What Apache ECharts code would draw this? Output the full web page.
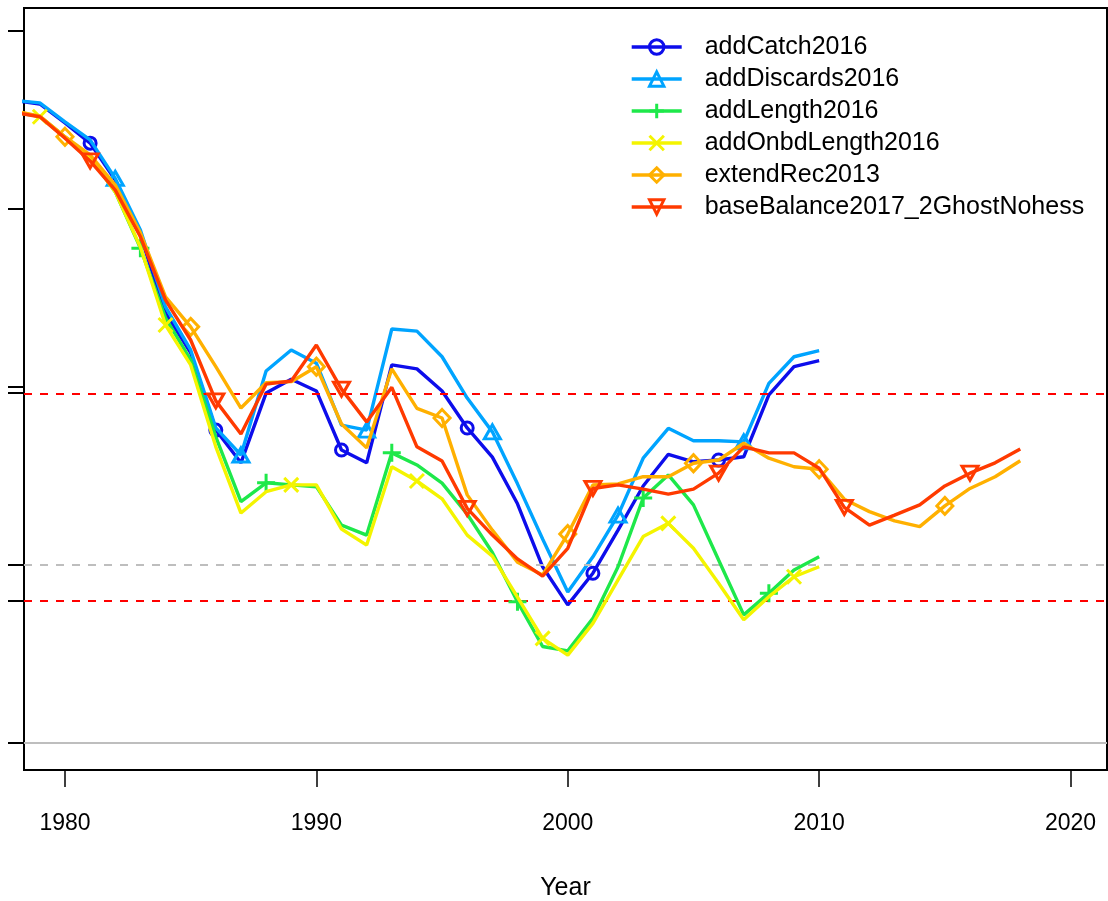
<!DOCTYPE html>
<html>
<head>
<meta charset="utf-8">
<title>Spawning output comparison</title>
<script src="https://cdn.jsdelivr.net/npm/echarts@6/dist/echarts.min.js"></script>
<style>
  html, body { margin: 0; padding: 0; background: #ffffff; }
  #chart { width: 1108px; height: 901px; }
</style>
</head>
<body>
<div id="chart"></div>
<script>
// Model years
const years = [1978, 1979, 1980, 1981, 1982, 1983, 1984, 1985, 1986, 1987,
  1988, 1989, 1990, 1991, 1992, 1993, 1994, 1995, 1996, 1997,
  1998, 1999, 2000, 2001, 2002, 2003, 2004, 2005, 2006, 2007,
  2008, 2009, 2010, 2011, 2012, 2013, 2014, 2015, 2016, 2017, 2018];

const seriesNames = ['addCatch2016', 'addDiscards2016', 'addLength2016',
  'addOnbdLength2016', 'extendRec2013', 'baseBalance2017_2GhostNohess'];

// Values per model run (1978 onward)
const addCatch2016 = [1.805, 1.795, 1.742, 1.685, 1.581, 1.427, 1.208, 1.096, 0.879, 0.787,
  0.983, 1.022, 0.989, 0.823, 0.787, 1.062, 1.051, 0.989, 0.885, 0.803,
  0.672, 0.495, 0.388, 0.477, 0.598, 0.722, 0.811, 0.790, 0.795, 0.804,
  0.978, 1.057, 1.074];
const addDiscards2016 = [1.805, 1.798, 1.745, 1.694, 1.586, 1.441, 1.225, 1.104, 0.885, 0.809,
  1.045, 1.104, 1.067, 0.893, 0.879, 1.163, 1.157, 1.085, 0.969, 0.874,
  0.728, 0.573, 0.424, 0.523, 0.640, 0.800, 0.884, 0.849, 0.849, 0.846,
  1.010, 1.085, 1.102];
const addLength2016 = [1.772, 1.760, 1.702, 1.646, 1.548, 1.390, 1.194, 1.076, 0.860, 0.678,
  0.731, 0.725, 0.720, 0.612, 0.584, 0.815, 0.781, 0.730, 0.643, 0.535,
  0.397, 0.271, 0.259, 0.350, 0.495, 0.688, 0.753, 0.669, 0.514, 0.360,
  0.421, 0.486, 0.523];
const addOnbdLength2016 = [1.775, 1.759, 1.702, 1.646, 1.548, 1.393, 1.174, 1.062, 0.832, 0.646,
  0.706, 0.725, 0.725, 0.601, 0.556, 0.776, 0.736, 0.686, 0.584, 0.525,
  0.410, 0.294, 0.247, 0.336, 0.458, 0.580, 0.617, 0.547, 0.449, 0.346,
  0.411, 0.467, 0.495];
const extendRec2013 = [1.775, 1.761, 1.703, 1.652, 1.567, 1.433, 1.253, 1.169, 1.057, 0.941,
  1.012, 1.015, 1.057, 0.896, 0.829, 1.051, 0.940, 0.913, 0.697, 0.598,
  0.508, 0.472, 0.587, 0.725, 0.728, 0.748, 0.748, 0.786, 0.795, 0.842,
  0.800, 0.776, 0.769, 0.685, 0.650, 0.624, 0.608, 0.666, 0.715, 0.748,
  0.793];
const baseBalance2017 = [1.771, 1.759, 1.699, 1.635, 1.553, 1.422, 1.244, 1.132, 0.961, 0.868,
  1.008, 1.017, 1.118, 0.994, 0.902, 0.999, 0.832, 0.792, 0.659, 0.584,
  0.517, 0.469, 0.547, 0.715, 0.725, 0.713, 0.699, 0.713, 0.758, 0.832,
  0.815, 0.815, 0.772, 0.662, 0.612, 0.640, 0.669, 0.722, 0.758, 0.787,
  0.826];

const seriesValues = [addCatch2016, addDiscards2016, addLength2016,
  addOnbdLength2016, extendRec2013, baseBalance2017];

// Reference levels
const refSolidGray = [0];
const refDashedGray = [0.5];
const refDashedRed = [0.4, 0.983];

// Axis ticks
const xTickLabels = [1980, 1990, 2000, 2010, 2020];
const yTickValues = [0, 0.4, 0.5, 0.983, 1, 1.5, 2];

// Drawing styles: colour, marker shape, marker size, first marker year
const PLUS = 'path://M0,6L12,6M6,0L6,12';
const CROSS = 'path://M0,0L12,12M12,0L0,12';
const styles = [
  { color: '#0D0DEB', symbol: 'circle', size: 12, rotate: 0, first: 1981 },
  { color: '#00A4FF', symbol: 'triangle', size: [16, 14], rotate: 0, first: 1982 },
  { color: '#1EE84A', symbol: PLUS, size: 18, rotate: 0, first: 1983 },
  { color: '#F4F400', symbol: CROSS, size: 14, rotate: 0, first: 1979 },
  { color: '#FFB000', symbol: 'diamond', size: [16, 17], rotate: 0, first: 1980 },
  { color: '#FF3A00', symbol: 'triangle', size: [16, 14], rotate: 180, first: 1981 }
];
const MARKER_STEP = 5;

const FONT = '"Liberation Sans", Arial, Helvetica, sans-serif';

const lineSeries = seriesNames.map((name, k) => {
  const st = styles[k];
  const vals = seriesValues[k];
  const data = vals.map((v, i) => {
    const yr = years[i];
    const marked = yr >= st.first && (yr - st.first) % MARKER_STEP === 0;
    return marked ? { value: [yr, v] } : { value: [yr, v], symbol: 'none' };
  });
  return {
    name: name,
    type: 'line',
    data: data,
    symbol: st.symbol,
    symbolSize: st.size,
    symbolRotate: st.rotate,
    showAllSymbol: true,
    clip: true,
    z: 3 + k,
    lineStyle: { color: st.color, width: 3.4 },
    itemStyle: { color: 'rgba(255,255,255,0)', borderColor: st.color, borderWidth: 3 },
    emphasis: { disabled: true },
    animation: false
  };
});

const refLines = {
  name: 'reference',
  type: 'line',
  data: [],
  z: 1,
  silent: true,
  animation: false,
  markLine: {
    silent: true,
    symbol: 'none',
    label: { show: false },
    animation: false,
    data: [
      ...refSolidGray.map(v => ({ yAxis: v, lineStyle: { color: '#BEBEBE', width: 2, type: 'solid' } })),
      ...refDashedGray.map(v => ({ yAxis: v, lineStyle: { color: '#BEBEBE', width: 2, type: [8, 8] } })),
      ...refDashedRed.map(v => ({ yAxis: v, lineStyle: { color: '#FF0000', width: 2, type: [8, 8] } }))
    ]
  }
};

const chart = echarts.init(document.getElementById('chart'), null, { renderer: 'canvas' });
chart.setOption({
  animation: false,
  backgroundColor: '#ffffff',
  textStyle: { fontFamily: FONT },
  grid: {
    left: 24, top: 8, right: 1, bottom: 131,
    outerBoundsMode: 'none',
    containLabel: false,
    show: true, borderColor: '#000000', borderWidth: 2, backgroundColor: 'transparent'
  },
  legend: {
    data: seriesNames,
    orient: 'vertical',
    left: 625,
    top: 26,
    itemWidth: 50,
    itemHeight: 18,
    itemGap: 0,
    selectedMode: false,
    lineStyle: { width: 3.4 },
    itemStyle: { borderWidth: 3 },
    textStyle: { fontFamily: FONT, fontSize: 25, color: '#000000', lineHeight: 32, padding: [0, 0, 0, 18] }
  },
  xAxis: {
    type: 'value',
    min: 1978.37,
    max: 2021.45,
    name: 'Year',
    nameLocation: 'middle',
    nameGap: 106,
    nameTextStyle: { fontFamily: FONT, fontSize: 25, color: '#000000' },
    axisLine: { show: true, onZero: false, lineStyle: { color: '#000000', width: 2 } },
    axisTick: { show: true, inside: false, length: 17, customValues: xTickLabels, lineStyle: { color: '#000000', width: 1.5 } },
    axisLabel: {
      show: true, margin: 42, customValues: xTickLabels,
      formatter: v => String(v),
      fontFamily: FONT, fontSize: 23, color: '#000000'
    },
    splitLine: { show: false }
  },
  yAxis: {
    type: 'value',
    min: -0.0758,
    max: 2.0646,
    axisLine: { show: true, onZero: false, lineStyle: { color: '#000000', width: 2 } },
    axisTick: { show: true, inside: false, length: 16, customValues: yTickValues, lineStyle: { color: '#000000', width: 2 } },
    axisLabel: { show: false },
    splitLine: { show: false }
  },
  series: [refLines, ...lineSeries]
});
</script>
</body>
</html>
